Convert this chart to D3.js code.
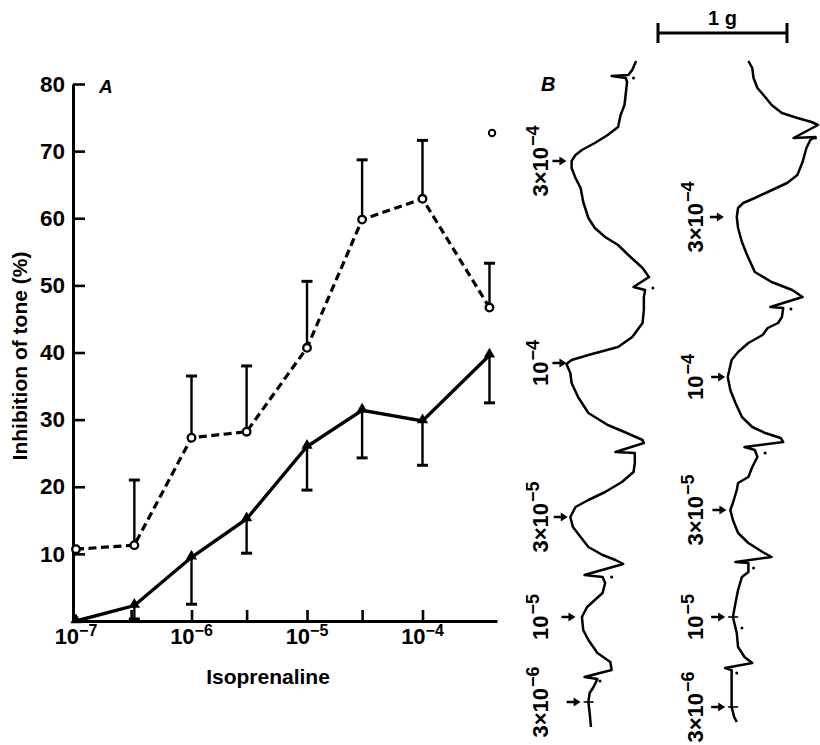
<!DOCTYPE html>
<html>
<head>
<meta charset="utf-8">
<script src="https://cdn.jsdelivr.net/npm/d3@7"></script>
<style>
  body { margin: 0; background: #fff; }
  svg { display: block; font-family: "Liberation Sans", Arial, Helvetica, sans-serif; font-weight: bold; }
</style>
</head>
<body>
<svg id="fig" width="820" height="745"></svg>
<script>
/************************* Panel A data *************************/
const concentrations = [1e-7, 3.2e-7, 1e-6, 3e-6, 1e-5, 3e-5, 1e-4, 3.8e-4];
const openMean = [10.7, 11.3, 27.3, 28.2, 40.7, 59.8, 62.9, 46.7];
const openSE = [0, 9.7, 9.2, 9.8, 9.9, 8.9, 8.7, 6.6];
const filledMean = [0, 2.3, 9.5, 15.2, 26.0, 31.4, 29.8, 39.6];
const filledSE = [0, 2.0, 7.0, 5.1, 6.5, 7.1, 6.6, 7.1];
const strayPoint = [4e-4, 72.7];
const yTicks = [10, 20, 30, 40, 50, 60, 70, 80];
const xTickMarks = [3e-7, 1e-6, 3e-6, 1e-5, 3e-5, 1e-4];
const xTickLabels = [1e-7, 1e-6, 1e-5, 1e-4];

/************************* Panel B data *************************/
// [time (min), tension (g)]
const trace1 = [
  [0.1, 0.59], [1.0, 0.56], [1.5, 0.53], [1.6, 0.40], [1.8, 0.51], [2.2, 0.52], [4.5, 0.50], [5.5, 0.47],
  [6.7, 0.45], [7.5, 0.37], [8.3, 0.27], [9.0, 0.17], [9.5, 0.12], [10.1, 0.09], [10.8, 0.09], [11.8, 0.12],
  [12.8, 0.16], [14.2, 0.18], [15.8, 0.22], [16.8, 0.27], [17.7, 0.35], [18.5, 0.45], [19.5, 0.53], [20.8, 0.64],
  [21.7, 0.69], [22.7, 0.57], [23.0, 0.66], [23.7, 0.65], [25.0, 0.65], [26.3, 0.64], [27.7, 0.56], [28.7, 0.45],
  [29.5, 0.22], [30.0, 0.09], [30.4, 0.05], [31.3, 0.08], [32.3, 0.09], [33.7, 0.14], [35.3, 0.22], [36.5, 0.37],
  [37.2, 0.50], [38.0, 0.64], [38.3, 0.65], [39.2, 0.43], [39.3, 0.58], [40.3, 0.58], [41.2, 0.57], [42.2, 0.48],
  [43.2, 0.35], [44.0, 0.22], [44.7, 0.12], [45.7, 0.08], [46.7, 0.10], [47.7, 0.16], [48.7, 0.22], [49.5, 0.33],
  [50.0, 0.43], [50.4, 0.49], [51.5, 0.19], [51.7, 0.33], [52.3, 0.35], [53.3, 0.33], [54.0, 0.27], [54.7, 0.21],
  [55.7, 0.17], [57.0, 0.18], [58.0, 0.22], [59.3, 0.29], [60.2, 0.39], [61.0, 0.40], [61.7, 0.19], [61.9, 0.29],
  [62.7, 0.26], [63.3, 0.23], [64.2, 0.22], [65.3, 0.23], [66.7, 0.24]
];
const trace2 = [
  [0.1, 0.22], [0.8, 0.25], [1.8, 0.26], [2.8, 0.29], [3.7, 0.35], [4.5, 0.40], [5.3, 0.48], [5.8, 0.60],
  [6.2, 0.71], [6.5, 0.76], [7.8, 0.57], [7.7, 0.74], [8.0, 0.70], [8.8, 0.67], [10.2, 0.64], [11.5, 0.60],
  [12.3, 0.52], [13.2, 0.37], [13.8, 0.27], [14.3, 0.18], [14.8, 0.14], [15.7, 0.13], [16.8, 0.14], [18.2, 0.17],
  [19.5, 0.21], [21.2, 0.27], [22.2, 0.40], [23.0, 0.56], [23.7, 0.64], [24.7, 0.39], [24.8, 0.49], [25.7, 0.48],
  [26.3, 0.45], [26.8, 0.37], [27.5, 0.33], [28.3, 0.22], [29.2, 0.14], [30.0, 0.09], [31.7, 0.06], [33.0, 0.08],
  [34.3, 0.12], [35.7, 0.17], [36.7, 0.25], [37.3, 0.35], [37.8, 0.47], [38.2, 0.49], [38.7, 0.19], [39.0, 0.27],
  [39.7, 0.29], [40.7, 0.25], [41.7, 0.22], [42.3, 0.14], [43.0, 0.13], [44.3, 0.10], [45.0, 0.08], [46.0, 0.10],
  [47.3, 0.14], [48.3, 0.22], [49.2, 0.33], [49.7, 0.40], [50.2, 0.12], [50.3, 0.22], [51.2, 0.22], [51.7, 0.17],
  [53.0, 0.14], [54.3, 0.12], [55.7, 0.10], [57.3, 0.13], [58.7, 0.14], [59.7, 0.19], [60.3, 0.25], [60.8, 0.04],
  [61.0, 0.09], [62.3, 0.09], [63.3, 0.09], [64.7, 0.09], [65.7, 0.11], [66.2, 0.13]
];
const trace1Dots = [[1.8, 0.57], [22.8, 0.72], [51.7, 0.40], [62.1, 0.31]];
const trace2Dots = [[7.8, 0.74], [24.9, 0.55], [39.3, 0.35], [50.8, 0.26], [56.8, 0.17], [61.3, 0.13]];
// [time, label, exponent, arrow tip (g), tick on trace]
const doses1 = [
  [10.1, "3×10", "−4", 0.05, false],
  [30.3, "10", "−4", 0.05, false],
  [45.7, "3×10", "−5", 0.06, false],
  [55.7, "10", "−5", 0.12, false],
  [64.2, "3×10", "−6", 0.16, true]
];
const doses2 = [
  [15.7, "3×10", "−4", 0.03, false],
  [31.7, "10", "−4", 0.04, false],
  [45.0, "3×10", "−5", 0.05, false],
  [55.7, "10", "−5", 0.04, true],
  [64.7, "3×10", "−6", 0.04, true]
];
const scaleBarGrams = [0, 1];

/************************* Panel A *************************/
const svg = d3.select("svg#fig");

const x = d3.scaleLog().domain([Math.pow(10, -7.026), Math.pow(10, -3.355)]).range([73, 497]);
const y = d3.scaleLinear().domain([0, 80]).range([621, 84]);

const panelA = svg.append("g").attr("class", "panelA");

// y axis
const yAxis = d3.axisLeft(y).tickValues(yTicks).tickSize(-12).tickSizeOuter(0).tickPadding(8);
panelA.append("g").attr("class", "y-axis").attr("transform", `translate(${x.range()[0]},0)`).call(yAxis);
// x axis ticks
const xAxis = d3.axisBottom(x).tickValues(xTickMarks).tickSize(-11).tickSizeOuter(0).tickFormat("");
panelA.append("g").attr("class", "x-axis").attr("transform", `translate(0,${y(0)})`).call(xAxis);

panelA.selectAll(".domain").attr("stroke", "#000").attr("stroke-width", 3);
panelA.selectAll(".tick line").attr("stroke", "#000").attr("stroke-width", 2.6);
panelA.selectAll(".y-axis").attr("font-family", null).attr("font-size", null);
panelA.selectAll(".y-axis .tick text").attr("font-size", 22.5).attr("fill", "#000");

// x tick labels with exponents
const xl = panelA.append("g").attr("class", "x-labels")
  .selectAll("text").data(xTickLabels).join("text")
  .attr("x", (d) => x(d)).attr("y", 644)
  .attr("text-anchor", "middle").attr("font-size", 22);
xl.append("tspan").text("10");
xl.append("tspan").attr("dy", -8).attr("font-size", 16).text((d) => "−" + Math.abs(Math.round(Math.log10(d))));

panelA.append("text").text("Isoprenaline").attr("x", 268).attr("y", 684)
  .attr("text-anchor", "middle").attr("font-size", 21);
panelA.append("text").text("Inhibition of tone (%)")
  .attr("transform", "translate(27,356) rotate(-90)")
  .attr("text-anchor", "middle").attr("font-size", 21);
panelA.append("text").text("A").attr("x", 99).attr("y", 93)
  .attr("font-size", 19).attr("font-style", "italic");

const openData = concentrations.map((c, i) => ({ c, v: openMean[i], se: openSE[i] }));
const filledData = concentrations.map((c, i) => ({ c, v: filledMean[i], se: filledSE[i] }));
const line = d3.line().x((d) => x(d.c)).y((d) => y(d.v));

panelA.append("path").datum(filledData).attr("d", line)
  .attr("fill", "none").attr("stroke", "#000").attr("stroke-width", 3.4);
panelA.append("path").datum(openData).attr("d", line)
  .attr("fill", "none").attr("stroke", "#000").attr("stroke-width", 3.2)
  .attr("stroke-dasharray", "8,4.5");

// error bars: open up, filled down
const bars = panelA.append("g").attr("class", "errors");
const drawBars = (data, dir) => {
  const g = bars.selectAll(null).data(data.filter((d) => d.se > 0)).join("g");
  g.append("line")
    .attr("x1", (d) => x(d.c)).attr("x2", (d) => x(d.c))
    .attr("y1", (d) => y(d.v)).attr("y2", (d) => y(d.v + dir * d.se))
    .attr("stroke", "#000").attr("stroke-width", 2.4);
  g.append("line")
    .attr("x1", (d) => x(d.c) - 5.5).attr("x2", (d) => x(d.c) + 5.5)
    .attr("y1", (d) => y(d.v + dir * d.se)).attr("y2", (d) => y(d.v + dir * d.se))
    .attr("stroke", "#000").attr("stroke-width", 3);
};
drawBars(openData, 1);
drawBars(filledData, -1);

panelA.append("g").selectAll("path").data(filledData).join("path")
  .attr("d", d3.symbol(d3.symbolTriangle, 55))
  .attr("transform", (d) => `translate(${x(d.c)},${y(d.v) - 1})`)
  .attr("fill", "#000");
panelA.append("g").selectAll("circle").data(openData).join("circle")
  .attr("cx", (d) => x(d.c)).attr("cy", (d) => y(d.v)).attr("r", 3.8)
  .attr("fill", "#fff").attr("stroke", "#000").attr("stroke-width", 2.3);
panelA.append("circle").attr("cx", x(strayPoint[0])).attr("cy", y(strayPoint[1])).attr("r", 3.2)
  .attr("fill", "#fff").attr("stroke", "#000").attr("stroke-width", 2);

/************************* Panel B *************************/
const time = d3.scaleLinear().domain([0, 67]).range([60, 730]);
const tension1 = d3.scaleLinear().domain([0, 1]).range([560, 689]);
const tension2 = d3.scaleLinear().domain([0, 1]).range([720, 849]);
const barScale = d3.scaleLinear().domain([0, 1]).range([658, 787]);

const panelB = svg.append("g").attr("class", "panelB");
panelB.append("text").text("B").attr("x", 541).attr("y", 91)
  .attr("font-size", 20).attr("font-style", "italic");

// scale bar
const sb = panelB.append("g").attr("class", "scalebar");
sb.append("line").attr("x1", barScale(scaleBarGrams[0])).attr("x2", barScale(scaleBarGrams[1]))
  .attr("y1", 33).attr("y2", 33).attr("stroke", "#000").attr("stroke-width", 3);
sb.selectAll("line.end").data(scaleBarGrams).join("line").attr("class", "end")
  .attr("x1", (d) => barScale(d)).attr("x2", (d) => barScale(d))
  .attr("y1", 23).attr("y2", 43).attr("stroke", "#000").attr("stroke-width", 3);
sb.append("text").text("1 g").attr("x", barScale(0.5)).attr("y", 25)
  .attr("text-anchor", "middle").attr("font-size", 20);

const drawTrace = (trace, dots, doses, tension, labelX) => {
  const g = panelB.append("g");
  g.append("path").datum(trace)
    .attr("d", d3.line().x((d) => tension(d[1])).y((d) => time(d[0])))
    .attr("fill", "none").attr("stroke", "#000").attr("stroke-width", 2.5)
    .attr("stroke-linejoin", "round");
  g.selectAll("circle").data(dots).join("circle")
    .attr("cx", (d) => tension(d[1])).attr("cy", (d) => time(d[0])).attr("r", 1.5).attr("fill", "#000");

  const a = g.selectAll("g.dose").data(doses).join("g").attr("class", "dose");
  a.append("line")
    .attr("x1", (d) => tension(d[3]) - 14).attr("x2", (d) => tension(d[3]) - 5)
    .attr("y1", (d) => time(d[0])).attr("y2", (d) => time(d[0]))
    .attr("stroke", "#000").attr("stroke-width", 2.5);
  a.append("path")
    .attr("d", (d) => {
      const tx = tension(d[3]), ty = time(d[0]);
      return `M${tx},${ty}L${tx - 7},${ty - 4.5}L${tx - 7},${ty + 4.5}Z`;
    })
    .attr("fill", "#000");
  a.filter((d) => d[4]).append("line")
    .attr("x1", (d) => tension(d[3]) + 3).attr("x2", (d) => tension(d[3]) + 13)
    .attr("y1", (d) => time(d[0])).attr("y2", (d) => time(d[0]))
    .attr("stroke", "#000").attr("stroke-width", 1.6);
  const t = a.append("text")
    .attr("transform", (d) => `translate(${labelX},${time(d[0])}) rotate(-90)`)
    .attr("text-anchor", "middle").attr("font-size", 22);
  t.append("tspan").text((d) => d[1]);
  t.append("tspan").attr("dx", 1).attr("dy", -9).attr("font-size", 18).text((d) => d[2]);
};
drawTrace(trace1, trace1Dots, doses1, tension1, 548);
drawTrace(trace2, trace2Dots, doses2, tension2, 703);
</script>
</body>
</html>
